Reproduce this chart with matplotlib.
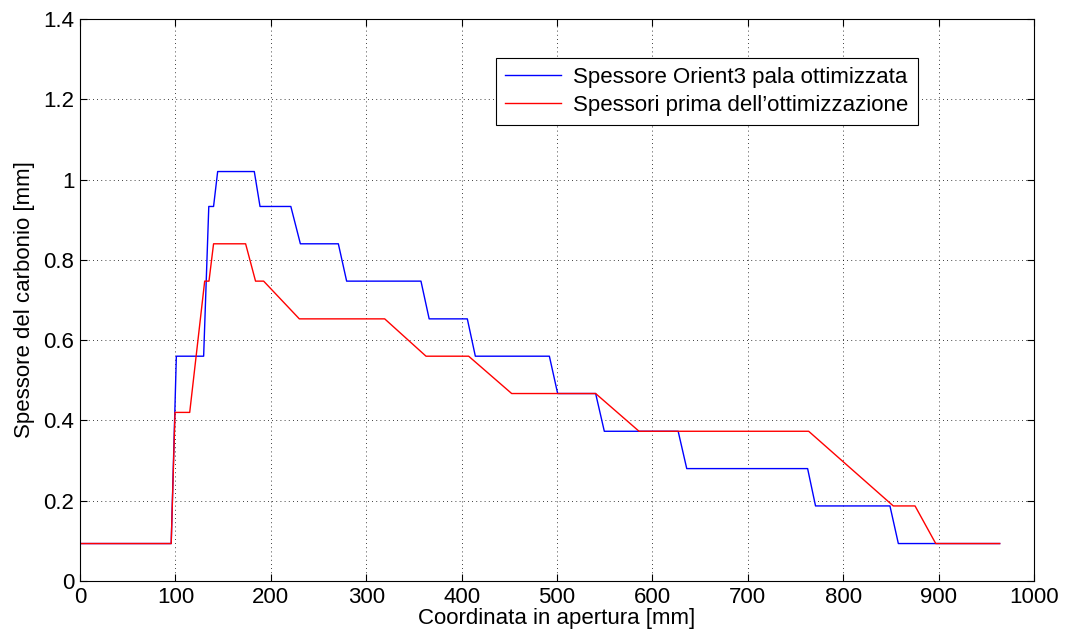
import matplotlib.pyplot as plt

# Spessore Orient3 pala ottimizzata
x_opt = [0, 95.6, 101, 129.6, 135, 140, 144.3, 182.7, 188.7, 221, 231, 270.8, 279.5,
         357.4, 366, 406, 414.4, 492, 500.7, 540.5, 549.6, 627, 636, 762.7, 771,
         849, 857.8, 964]
y_opt = [0.0933, 0.0933, 0.56, 0.56, 0.933, 0.933, 1.02, 1.02, 0.933, 0.933, 0.84, 0.84, 0.747,
         0.747, 0.653, 0.653, 0.56, 0.56, 0.467, 0.467, 0.373, 0.373, 0.28, 0.28, 0.187,
         0.187, 0.0933, 0.0933]

# Spessori prima dell'ottimizzazione
x_pre = [0, 95.6, 99.6, 115, 130.7, 135.2, 140, 173.6, 184, 192.5, 229.9, 319.4, 362.7,
         407.4, 452.5, 540.5, 586, 763.8, 852.5, 875.3, 897, 964]
y_pre = [0.0933, 0.0933, 0.42, 0.42, 0.747, 0.747, 0.84, 0.84, 0.747, 0.747, 0.653, 0.653, 0.56,
         0.56, 0.467, 0.467, 0.373, 0.373, 0.187, 0.187, 0.0933, 0.0933]

plt.rcParams['font.family'] = ['Liberation Sans', 'DejaVu Sans']

fig = plt.figure(figsize=(10.67, 6.39), dpi=100)
ax = fig.add_axes([80 / 1067, 1 - 581 / 639, 954 / 1067, 562 / 639])

ax.plot(x_opt, y_opt, color='blue', linewidth=1, label='Spessore Orient3 pala ottimizzata')
ax.plot(x_pre, y_pre, color='red', linewidth=1, label="Spessori prima dell\u2019ottimizzazione")

ax.set_xlim(0, 1000)
ax.set_ylim(0, 1.4)
ax.set_xticks(range(0, 1001, 100))
ax.set_yticks([0, 0.2, 0.4, 0.6, 0.8, 1.0, 1.2, 1.4])
ax.set_yticklabels(['0', '0.2', '0.4', '0.6', '0.8', '1', '1.2', '1.4'])
ax.grid(True, color='black', linestyle=(0, (1, 4)), linewidth=0.6)
ax.tick_params(direction='in', top=True, right=True, labelsize=16, length=5, pad=4)
for s in ax.spines.values():
    s.set_linewidth(0.8)

ax.set_xlabel('Coordinata in apertura [mm]', fontsize=16, labelpad=0)
ax.set_ylabel('Spessore del carbonio [mm]', fontsize=16, labelpad=6)

leg = ax.legend(loc='upper right', bbox_to_anchor=(0.878, 0.931), fontsize=16,
                fancybox=False, edgecolor='black', framealpha=1,
                handlelength=2.5, handletextpad=0.55, borderpad=0.42,
                labelspacing=0.3, borderaxespad=0)
leg.get_frame().set_linewidth(0.8)

fig.savefig('out.png', dpi=100)
